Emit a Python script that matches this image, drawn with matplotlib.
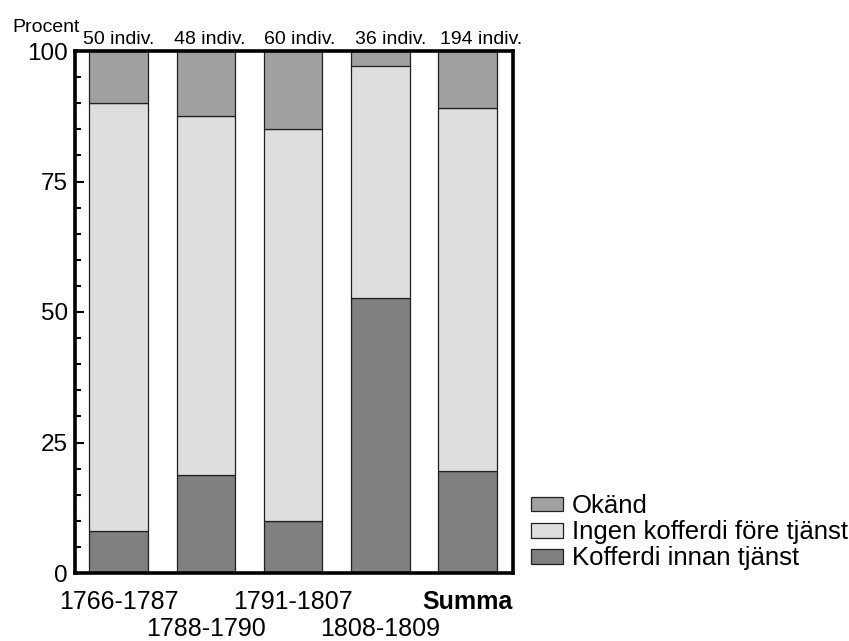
import numpy as np
import matplotlib
matplotlib.use("Agg")
import matplotlib.pyplot as plt
from matplotlib.ticker import MultipleLocator

plt.rcParams['font.family'] = ['Liberation Sans', 'DejaVu Sans']

# number of individuals per period
periods = ['1766-1787', '1788-1790', '1791-1807', '1808-1809', 'Summa']
kofferdi = np.array([4, 9, 6, 19, 38])     # Kofferdi innan tjänst
ingen = np.array([41, 33, 45, 16, 135])    # Ingen kofferdi före tjänst
okand = np.array([5, 6, 9, 1, 21])         # Okänd
totals = np.array([50, 48, 60, 36, 194])

p_kof = kofferdi / totals * 100
p_ing = ingen / totals * 100
p_oka = okand / totals * 100

fig = plt.figure(figsize=(8.49, 6.41), dpi=100)
ax = fig.add_axes([75 / 849, 68 / 641, 438 / 849, 522 / 641])

x = np.arange(len(periods))
w = 0.67
ec = '#202020'
b1 = ax.bar(x, p_kof, w, color='#808080', edgecolor=ec, linewidth=0.9)
b2 = ax.bar(x, p_ing, w, bottom=p_kof, color='#dedede', edgecolor=ec, linewidth=0.9)
b3 = ax.bar(x, p_oka, w, bottom=p_kof + p_ing, color='#a0a0a0', edgecolor=ec, linewidth=0.9)

ax.set_xlim(-0.5, 4.52)
ax.set_ylim(0, 100)

for s in ax.spines.values():
    s.set_linewidth(2.6)

ax.yaxis.set_major_locator(MultipleLocator(25))
ax.yaxis.set_minor_locator(MultipleLocator(5))
ax.tick_params(axis='y', which='major', direction='in', length=6.5, width=1.5,
               labelsize=17.5, pad=5)
ax.tick_params(axis='y', which='minor', direction='in', length=4, width=1.5)
ax.set_xticks([])

# staggered category labels below the axis
for i, p in enumerate(periods):
    off = -12 if i % 2 == 0 else -32
    ax.annotate(p, xy=(i, 0), xycoords=('data', 'axes fraction'),
                xytext=(0, off), textcoords='offset points',
                ha='center', va='top', fontsize=18,
                fontweight='bold' if p == 'Summa' else 'normal')

# counts above the bars
for i, n in enumerate(totals):
    ax.annotate(f'{n} indiv.', xy=(i * 1.04, 1), xycoords=('data', 'axes fraction'),
                xytext=(0, 5), textcoords='offset points',
                ha='center', va='baseline', fontsize=14)

fig.text(46 / 849, 1 - 32 / 641, 'Procent', ha='center', va='baseline', fontsize=14)

ax.legend([b3, b2, b1], ['Okänd', 'Ingen kofferdi före tjänst', 'Kofferdi innan tjänst'],
          loc='lower left', bbox_to_anchor=(1.04, 0.005), frameon=False,
          fontsize=18.5, handlelength=1.25, handleheight=0.5, handletextpad=0.35,
          labelspacing=0.08, borderpad=0, borderaxespad=0)

fig.savefig('out.png', dpi=100)
